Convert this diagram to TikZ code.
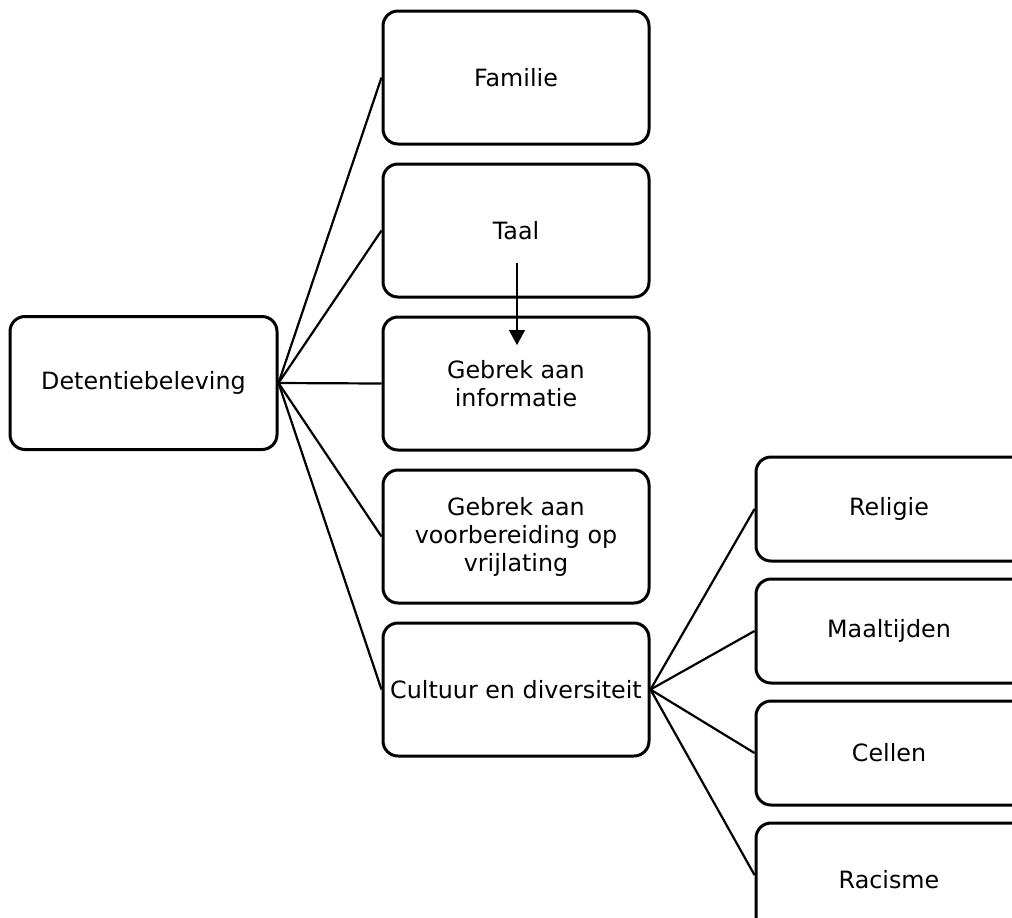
\documentclass[tikz,border=0pt]{standalone}
\usepackage{fontspec}
\setmainfont{DejaVu Sans}
\usetikzlibrary{arrows.meta}
\tikzset{
  box/.style={draw, line width=1.5pt, rounded corners=7.5pt, minimum width=133pt, minimum height=66.5pt, inner sep=0pt, align=center, font=\fontsize{11.9}{14}\selectfont},
  smallbox/.style={box, minimum width=160pt, minimum height=52pt},
  link/.style={line width=1.1pt},
  arr/.style={line width=0.7pt, -{Triangle[width=8pt,length=7.5pt]}}
}
\begin{document}
\begin{tikzpicture}[x=0.5pt,y=-0.5pt]
\useasboundingbox (0,0) rectangle (1012,917);
\clip (0,0) rectangle (1012,917);
\node[box, minimum width=133.5pt] (det) at (143.5,383) {Detentiebeleving};
\node[box] (fam) at (516,77.5) {Familie};
\node[box] (taal) at (516,230.5) {Taal};
\node[box] (info) at (516,383.5) {Gebrek aan\\informatie};
\node[box] (voor) at (516,536.5) {Gebrek aan\\voorbereiding op\\vrijlating};
\node[box] (cult) at (516,689.5) {Cultuur en diversiteit};
\node[smallbox] (rel) at (916,509) {Religie\hspace*{27pt}};
\node[smallbox] (maal) at (916,631) {Maaltijden\hspace*{27pt}};
\node[smallbox] (cel) at (916,753) {Cellen\hspace*{27pt}};
\node[smallbox, minimum height=60pt] (rac) at (916,883) {\raisebox{4pt}{Racisme}\hspace*{27pt}};
\foreach \t in {fam,taal,info,voor,cult} \draw[link] (det.east) -- (\t.west);
\foreach \t in {rel,maal,cel} \draw[link] (cult.east) -- (\t.west);
\draw[link] (cult.east) -- ([yshift=4pt]rac.west);
\coordinate (as) at (517,263);
\coordinate (ae) at (517,345);
\draw[arr] (as) -- (ae);
\end{tikzpicture}
\end{document}
